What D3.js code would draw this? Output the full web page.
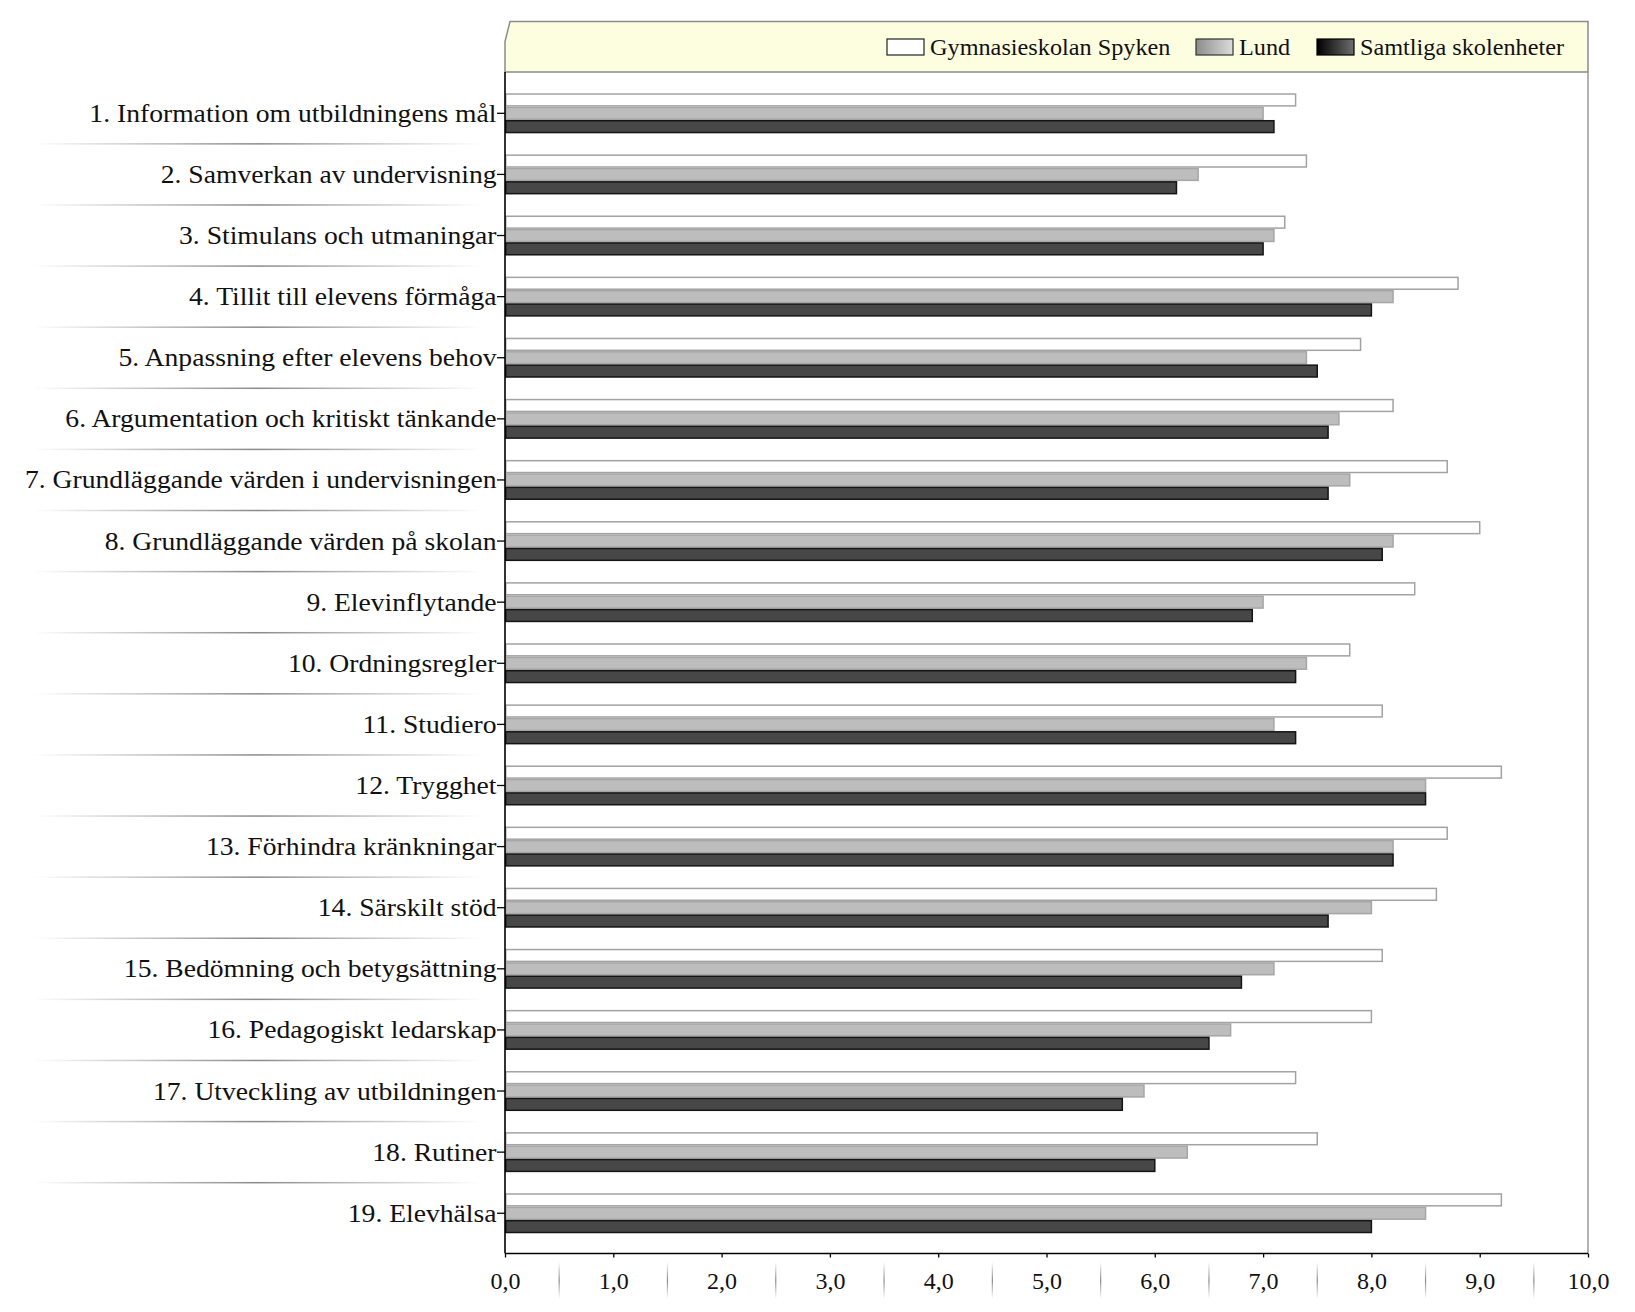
<!DOCTYPE html>
<html>
<head>
<meta charset="utf-8">
<script src="https://cdn.jsdelivr.net/npm/d3@7"></script>
<style>
  html, body { margin: 0; padding: 0; background: #ffffff; }
  svg { display: block; }
</style>
</head>
<body>
<svg id="chart" width="1635" height="1312"></svg>
<script>
const categories = [
  "1. Information om utbildningens mål",
  "2. Samverkan av undervisning",
  "3. Stimulans och utmaningar",
  "4. Tillit till elevens förmåga",
  "5. Anpassning efter elevens behov",
  "6. Argumentation och kritiskt tänkande",
  "7. Grundläggande värden i undervisningen",
  "8. Grundläggande värden på skolan",
  "9. Elevinflytande",
  "10. Ordningsregler",
  "11. Studiero",
  "12. Trygghet",
  "13. Förhindra kränkningar",
  "14. Särskilt stöd",
  "15. Bedömning och betygsättning",
  "16. Pedagogiskt ledarskap",
  "17. Utveckling av utbildningen",
  "18. Rutiner",
  "19. Elevhälsa"
];
const seriesNames = ["Gymnasieskolan Spyken", "Lund", "Samtliga skolenheter"];
const spyken   = [7.3, 7.4, 7.2, 8.8, 7.9, 8.2, 8.7, 9.0, 8.4, 7.8, 8.1, 9.2, 8.7, 8.6, 8.1, 8.0, 7.3, 7.5, 9.2];
const lund     = [7.0, 6.4, 7.1, 8.2, 7.4, 7.7, 7.8, 8.2, 7.0, 7.4, 7.1, 8.5, 8.2, 8.0, 7.1, 6.7, 5.9, 6.3, 8.5];
const samtliga = [7.1, 6.2, 7.0, 8.0, 7.5, 7.6, 7.6, 8.1, 6.9, 7.3, 7.3, 8.5, 8.2, 7.6, 6.8, 6.5, 5.7, 6.0, 8.0];
const xTicks = [0, 1, 2, 3, 4, 5, 6, 7, 8, 9, 10];
const xTickLabels = ["0,0", "1,0", "2,0", "3,0", "4,0", "5,0", "6,0", "7,0", "8,0", "9,0", "10,0"];

const seriesValues = [spyken, lund, samtliga];

const svg = d3.select("#chart");
const FONT = "'Liberation Serif', 'Times New Roman', serif";

const plotLeft = 505, plotRight = 1588, plotTop = 72, plotBottom = 1253.5;
const legendTop = 21.5;
const labelStretch = 1.105;
const legendStretch = 1.055;

const x = d3.scaleLinear().domain([0, 10]).range([plotLeft, plotRight]);
const y = d3.scaleBand().domain(categories).range([82.75, 1243.8]).paddingInner(0.345).paddingOuter(0.1725);
const y1 = d3.scaleBand().domain(seriesNames).range([0, y.bandwidth()]);

const defs = svg.append("defs");
const gSep = defs.append("linearGradient").attr("id", "sepGrad").attr("x1", "0%").attr("x2", "100%");
gSep.append("stop").attr("offset", "0%").attr("stop-color", "#ffffff");
gSep.append("stop").attr("offset", "50%").attr("stop-color", "#8a8a8a");
gSep.append("stop").attr("offset", "100%").attr("stop-color", "#ffffff");
const gVSep = defs.append("linearGradient").attr("id", "vsepGrad").attr("x1", "0%").attr("x2", "0%").attr("y1", "0%").attr("y2", "100%");
gVSep.append("stop").attr("offset", "0%").attr("stop-color", "#ffffff");
gVSep.append("stop").attr("offset", "50%").attr("stop-color", "#8a8a8a");
gVSep.append("stop").attr("offset", "100%").attr("stop-color", "#ffffff");
const gLund = defs.append("linearGradient").attr("id", "lundGrad").attr("x1", "0%").attr("x2", "100%");
gLund.append("stop").attr("offset", "0%").attr("stop-color", "#8c8c8c");
gLund.append("stop").attr("offset", "100%").attr("stop-color", "#dcdcdc");
const gSam = defs.append("linearGradient").attr("id", "samGrad").attr("x1", "0%").attr("x2", "100%");
gSam.append("stop").attr("offset", "0%").attr("stop-color", "#000000");
gSam.append("stop").attr("offset", "100%").attr("stop-color", "#6e6e6e");

// Legend box (with chamfered top-left corner)
svg.append("path")
  .attr("d", `M${plotLeft},${plotTop} L${plotLeft},${legendTop + 20} L${plotLeft + 5},${legendTop} L${plotRight},${legendTop} L${plotRight},${plotTop} Z`)
  .attr("fill", "#fdfde0")
  .attr("stroke", "#8c8c8c")
  .attr("stroke-width", 1.5);

// plot right border
svg.append("line")
  .attr("x1", plotRight).attr("x2", plotRight)
  .attr("y1", plotTop).attr("y2", plotBottom)
  .attr("stroke", "#9a9a9a").attr("stroke-width", 1.5);

// left separators between categories
const step = y.step();
const boundaries = categories.slice(1).map(c => y(c) - (step - y.bandwidth()) / 2);
svg.append("g").selectAll("rect.sep")
  .data(boundaries)
  .join("rect")
  .attr("x", 33).attr("width", 449)
  .attr("y", d => d - 0.75).attr("height", 1.5)
  .attr("fill", "url(#sepGrad)");

// Bars
const fills = ["#ffffff", "#bdbdbd", "#474747"];
const strokes = ["#a3a3a3", "#a6a6a6", "#141414"];
const barData = [];
categories.forEach((c, i) => {
  seriesNames.forEach((s, j) => {
    barData.push({ cat: c, series: s, j: j, value: seriesValues[j][i] });
  });
});
svg.append("g").selectAll("rect.bar")
  .data(barData)
  .join("rect")
  .attr("class", "bar")
  .attr("x", x(0) + 0.75)
  .attr("y", d => y(d.cat) + y1(d.series) + 0.75)
  .attr("width", d => x(d.value) - x(0) - 0.75)
  .attr("height", y1.bandwidth() - 1.5)
  .attr("fill", d => fills[d.j])
  .attr("stroke", d => strokes[d.j])
  .attr("stroke-width", 1.5);

// Y axis
const yAxis = d3.axisLeft(y).tickSize(8).tickPadding(2);
const gy = svg.append("g").attr("transform", `translate(${plotLeft},0)`).call(yAxis);
gy.select(".domain").remove();
gy.selectAll(".tick line").attr("stroke", "#000").attr("stroke-width", 1.3);
gy.selectAll(".tick text")
  .attr("font-family", FONT)
  .attr("font-size", 25)
  .attr("fill", "#111")
  .attr("dy", "0.34em")
  .attr("x", -8.5 / labelStretch)
  .attr("transform", `scale(${labelStretch},1)`);
svg.append("line")
  .attr("x1", plotLeft).attr("x2", plotLeft)
  .attr("y1", plotTop).attr("y2", plotBottom)
  .attr("stroke", "#000").attr("stroke-width", 1.6);

// X axis
const xAxis = d3.axisBottom(x).tickValues(xTicks).tickSize(4).tickFormat((d, i) => xTickLabels[i]).tickPadding(14);
const gx = svg.append("g").attr("transform", `translate(0,${plotBottom})`).call(xAxis);
gx.select(".domain").remove();
gx.selectAll(".tick line").attr("stroke", "#000").attr("stroke-width", 1.3);
gx.selectAll(".tick text")
  .attr("font-family", FONT)
  .attr("font-size", 24)
  .attr("fill", "#111");
svg.append("line")
  .attr("x1", plotLeft).attr("x2", plotRight)
  .attr("y1", plotBottom).attr("y2", plotBottom)
  .attr("stroke", "#000").attr("stroke-width", 1.6);

// faint separators between x tick labels
svg.append("g").selectAll("rect.vsep")
  .data(xTicks.slice(0, -1).map(t => t + 0.5))
  .join("rect")
  .attr("x", d => x(d) - 0.6).attr("width", 1.2)
  .attr("y", 1262).attr("height", 37)
  .attr("fill", "url(#vsepGrad)");

// Legend
const legendItems = [
  { name: seriesNames[0], sx: 887, fill: "#ffffff", stroke: "#222" },
  { name: seriesNames[1], sx: 1196, fill: "url(#lundGrad)", stroke: "#333" },
  { name: seriesNames[2], sx: 1317, fill: "url(#samGrad)", stroke: "#000" }
];
const lg = svg.append("g");
legendItems.forEach(it => {
  lg.append("rect")
    .attr("x", it.sx).attr("y", 39)
    .attr("width", 37).attr("height", 16)
    .attr("fill", it.fill).attr("stroke", it.stroke).attr("stroke-width", 1.2);
  lg.append("text")
    .attr("x", (it.sx + 43) / legendStretch).attr("y", 55)
    .attr("transform", `scale(${legendStretch},1)`)
    .attr("font-family", FONT)
    .attr("font-size", 23)
    .attr("fill", "#111")
    .text(it.name);
});
</script>
</body>
</html>
